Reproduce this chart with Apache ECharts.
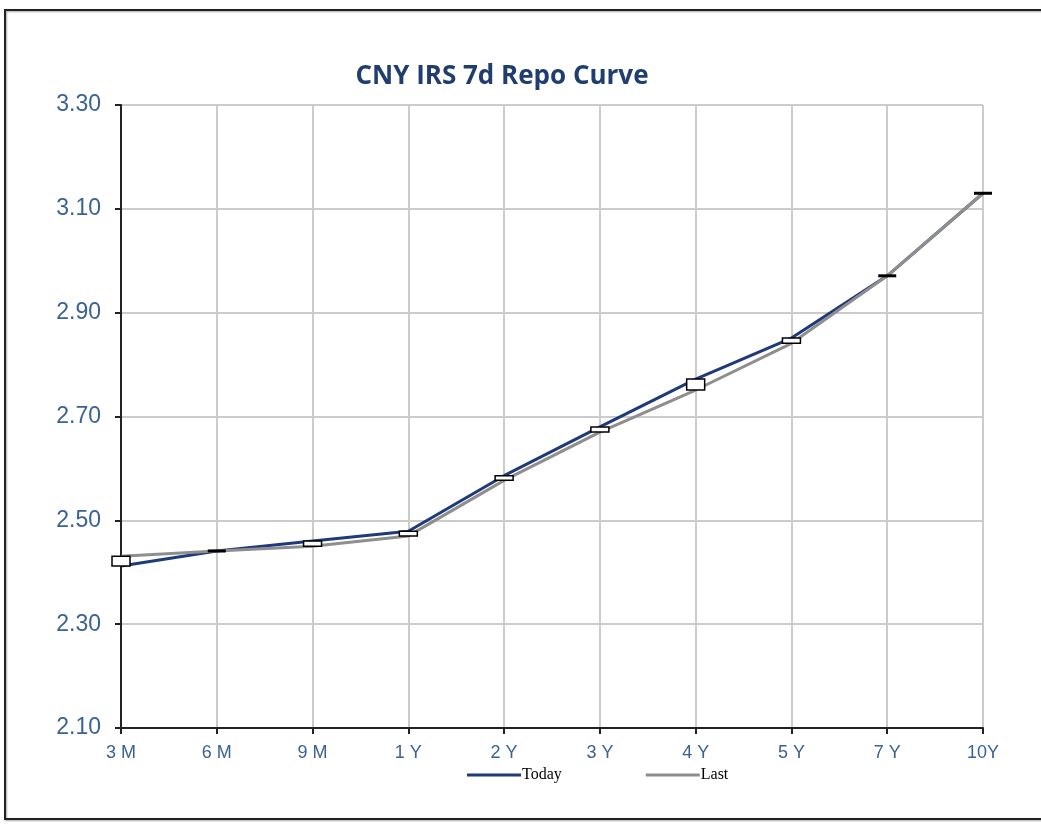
<!DOCTYPE html>
<html>
<head>
<meta charset="utf-8">
<script src="https://cdn.jsdelivr.net/npm/echarts@6/dist/echarts.min.js"></script>
<style>html,body{margin:0;padding:0;background:#fff}#c{width:1041px;height:829px}</style>
</head>
<body>
<div id="c"></div>
<script>
const categories = ['3 M','6 M','9 M','1 Y','2 Y','3 Y','4 Y','5 Y','7 Y','10Y'];
const today = [2.412, 2.441, 2.460, 2.479, 2.586, 2.680, 2.772, 2.851, 2.971, 3.130];
const last  = [2.431, 2.441, 2.450, 2.470, 2.577, 2.670, 2.751, 2.841, 2.971, 3.130];
const yTicks = [2.10, 2.30, 2.50, 2.70, 2.90, 3.10, 3.30];

const chart = echarts.init(document.getElementById('c'));
const boxData = categories.map((c, i) => [i, today[i], last[i]]);
chart.setOption({
  animation: false,
  backgroundColor: '#fff',
  title: {
    text: 'CNY IRS 7d Repo Curve',
    left: 497, top: 59, textAlign: 'center',
    textStyle: {fontFamily: 'Open Sans', fontWeight: 'bold', fontSize: 26, color: '#1f3d6e'}
  },
  graphic: [{
    type: 'rect', shape: {x: 5, y: 10, width: 1060, height: 809},
    style: {fill: 'none', stroke: '#222', lineWidth: 2,
      shadowColor: 'rgba(0,0,0,0.35)', shadowBlur: 2, shadowOffsetX: 1, shadowOffsetY: 1},
    silent: true, z: -1
  }],
  legend: {
    data: ['Today', 'Last'],
    left: 462, top: 762,
    itemWidth: 54, itemHeight: 3, itemGap: 84,
    icon: 'rect',
    textStyle: {fontFamily: 'Liberation Serif', fontSize: 16, color: '#000', padding: [0,0,0,-4]}
  },
  grid: {left: 121, right: 58, top: 105, bottom: 101},
  xAxis: {
    type: 'category', data: categories, boundaryGap: false,
    axisLine: {lineStyle: {color: '#222', width: 2}},
    axisTick: {show: true, length: 6, lineStyle: {color: '#222', width: 2}},
    axisLabel: {fontFamily: 'Liberation Sans', fontSize: 18, color: '#3a6294', margin: 16},
    splitLine: {show: true, lineStyle: {color: '#cccccc', width: 2}}
  },
  yAxis: {
    type: 'value', min: 2.10, max: 3.30, interval: 0.20,
    axisLine: {show: true, lineStyle: {color: '#222', width: 2}},
    axisTick: {show: true, length: 6, lineStyle: {color: '#222', width: 2}},
    axisLabel: {fontFamily: 'Liberation Sans', fontSize: 23, color: '#3a6294', margin: 20,
      formatter: v => v.toFixed(2)},
    splitLine: {show: true, lineStyle: {color: '#cccccc', width: 2}}
  },
  series: [
    {name: 'Today', type: 'line', data: today, symbol: 'none',
      lineStyle: {color: '#1f3a7a', width: 3}, itemStyle: {color: '#1f3a7a'}, z: 2},
    {name: 'Last', type: 'line', data: last, symbol: 'none',
      lineStyle: {color: '#8e8e8e', width: 3}, itemStyle: {color: '#8e8e8e'}, z: 3},
    {name: 'diff', type: 'custom', data: boxData, z: 5,
      renderItem: function (params, api) {
        const p1 = api.coord([api.value(0), api.value(1)]);
        const p2 = api.coord([api.value(0), api.value(2)]);
        const w = 18;
        const top = Math.min(p1[1], p2[1]);
        const h = Math.abs(p1[1] - p2[1]);
        if (h < 1) {
          return {type: 'rect', shape: {x: p1[0] - w/2, y: top - 1.5, width: w, height: 3},
            style: {fill: '#000'}};
        }
        return {type: 'rect', shape: {x: p1[0] - w/2, y: top, width: w, height: h},
          style: {fill: '#fff', stroke: '#000', lineWidth: 1.5}};
      }}
  ]
});
</script>
</body>
</html>
